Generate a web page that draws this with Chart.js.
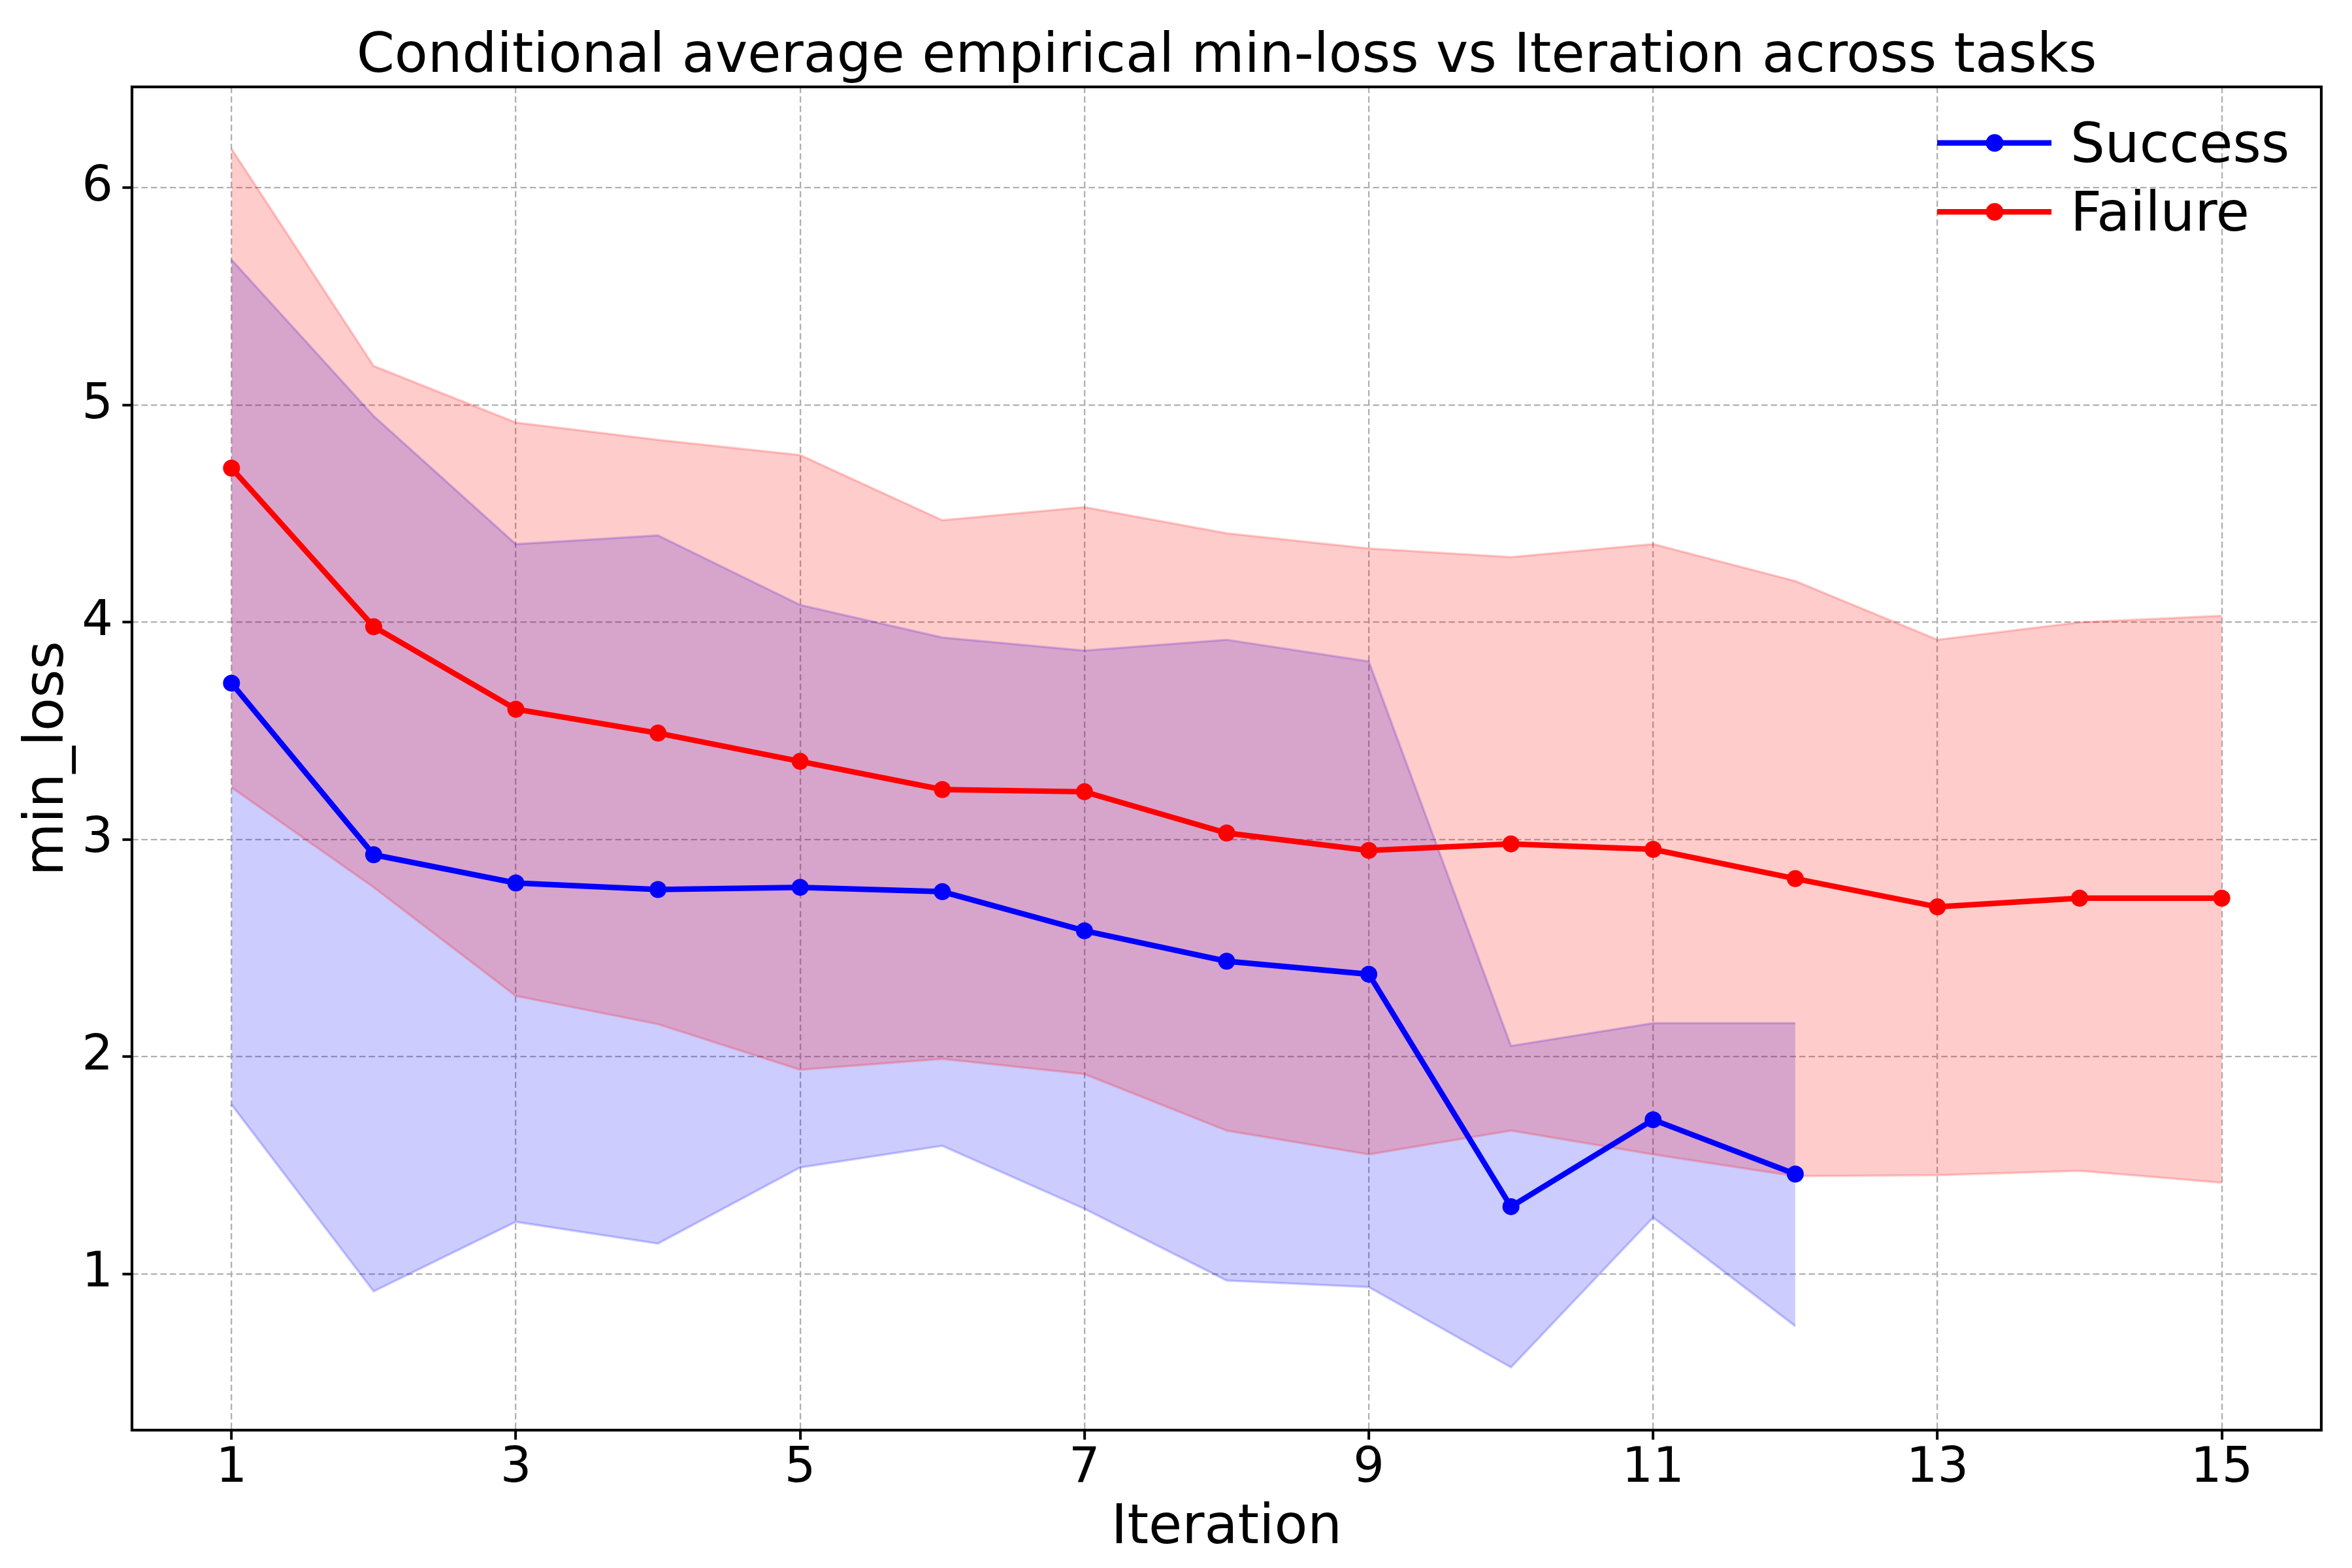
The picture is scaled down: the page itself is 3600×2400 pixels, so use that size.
<!DOCTYPE html>
<html lang="en">
<head>
  <meta charset="UTF-8">
  <title>Conditional average empirical min-loss vs Iteration across tasks</title>
  <style>
    html,
    body {
      margin: 0;
      padding: 0;
      background: #fff;
    }
    #chart {
      display: block;
      width: 3600px;
      height: 2400px;
    }
  </style>
</head>
<body>
  <canvas id="chart" width="3600" height="2400"></canvas>
  <script src="https://cdn.jsdelivr.net/npm/chart.js@4.4.1/dist/chart.umd.min.js"></script>
  <script>
    const chartTitle = 'Conditional average empirical min-loss vs Iteration across tasks'
    const iterations = [1, 2, 3, 4, 5, 6, 7, 8, 9, 10, 11, 12, 13, 14, 15]
    const xTicks = [1, 3, 5, 7, 9, 11, 13, 15]
    const yTicks = [1, 2, 3, 4, 5, 6]

    const successMean = [3.72, 2.93, 2.80, 2.77, 2.78, 2.76, 2.58, 2.44, 2.38, 1.31, 1.71, 1.46]
    const successUpper = [5.67, 4.95, 4.36, 4.40, 4.08, 3.93, 3.87, 3.92, 3.82, 2.05, 2.155, 2.155]
    const successLower = [1.78, 0.92, 1.24, 1.14, 1.49, 1.59, 1.30, 0.97, 0.94, 0.57, 1.26, 0.76]

    const failureMean = [4.71, 3.98, 3.60, 3.49, 3.36, 3.23, 3.22, 3.03, 2.95, 2.98, 2.955, 2.82, 2.69, 2.73, 2.73]
    const failureUpper = [6.18, 5.18, 4.92, 4.84, 4.77, 4.47, 4.53, 4.41, 4.34, 4.30, 4.36, 4.19, 3.92, 4.00, 4.03]
    const failureLower = [3.24, 2.78, 2.28, 2.15, 1.94, 1.99, 1.92, 1.66, 1.55, 1.66, 1.55, 1.45, 1.455, 1.475, 1.42]

    const BLUE = 'rgb(0, 0, 255)'
    const RED = 'rgb(255, 0, 0)'
    const BLUE_FILL = 'rgba(0, 0, 255, 0.2)'
    const RED_FILL = 'rgba(255, 0, 0, 0.2)'

    const toPoints = values => values.map((v, i) => ({ x: iterations[i], y: v }))

    function meanLine(label, values, color) {
      return {
        label,
        data: toPoints(values),
        borderColor: color,
        backgroundColor: color,
        borderWidth: 8.5,
        pointRadius: 13,
        pointHoverRadius: 13,
        pointBorderWidth: 0,
        fill: false,
        tension: 0
      }
    }

    function bandEdge(label, values, color, fill) {
      return {
        label,
        data: toPoints(values),
        borderColor: color,
        backgroundColor: color,
        borderWidth: 3.5,
        pointRadius: 0,
        fill,
        tension: 0
      }
    }

    // title, frame around the plot and the matplotlib-style legend
    const framePlugin = {
      id: 'frame',
      afterDraw(chart) {
        const { ctx, chartArea } = chart
        ctx.save()
        ctx.strokeStyle = '#000'
        ctx.lineWidth = 4.2
        ctx.strokeRect(chartArea.left, chartArea.top, chartArea.right - chartArea.left, chartArea.bottom - chartArea.top)

        ctx.fillStyle = '#000'
        ctx.font = '83.3px "DejaVu Sans"'
        ctx.textAlign = 'center'
        ctx.textBaseline = 'alphabetic'
        ctx.fillText(chartTitle, (chartArea.left + chartArea.right) / 2, 109.5)

        const items = [
          { text: 'Success', color: BLUE, y: 218.7, base: 247.5 },
          { text: 'Failure', color: RED, y: 324.3, base: 352.6 }
        ]
        items.forEach(item => {
          ctx.strokeStyle = item.color
          ctx.fillStyle = item.color
          ctx.lineWidth = 8.5
          ctx.beginPath()
          ctx.moveTo(2965, item.y)
          ctx.lineTo(3140, item.y)
          ctx.stroke()
          ctx.beginPath()
          ctx.arc(3053, item.y, 13.5, 0, Math.PI * 2)
          ctx.fill()
          ctx.fillStyle = '#000'
          ctx.font = '83.3px "DejaVu Sans"'
          ctx.textAlign = 'left'
          ctx.textBaseline = 'alphabetic'
          ctx.fillText(item.text, 3169, item.base)
        })
        ctx.restore()
      }
    }

    function drawChart() {
      Chart.defaults.font.family = '"DejaVu Sans", sans-serif'
      Chart.defaults.color = '#000'

      const gridStyle = {
        color: '#b0b0b0',
        lineWidth: 2.3,
        drawTicks: true,
        tickLength: 14.6,
        tickColor: '#000',
        tickWidth: 4,
        tickBorderDash: []
      }

      const context = document.querySelector('#chart').getContext('2d')
      new Chart(context, {
        type: 'line',
        data: {
          datasets: [
            meanLine('Failure', failureMean, RED),
            meanLine('Success', successMean, BLUE),
            bandEdge('failure upper', failureUpper, RED_FILL, '+1'),
            bandEdge('failure lower', failureLower, RED_FILL, false),
            bandEdge('success upper', successUpper, BLUE_FILL, '+1'),
            bandEdge('success lower', successLower, BLUE_FILL, false)
          ]
        },
        options: {
          responsive: false,
          devicePixelRatio: 1,
          animation: false,
          layout: { padding: { left: 0, right: 47, top: 133, bottom: 0 } },
          plugins: {
            legend: { display: false },
            tooltip: { enabled: false },
            title: { display: false }
          },
          scales: {
            x: {
              type: 'linear',
              min: 0.3,
              max: 15.7,
              afterBuildTicks: scale => { scale.ticks = xTicks.map(v => ({ value: v })) },
              afterFit: scale => { scale.height = 211 },
              ticks: {
                font: { size: 75, lineHeight: 1.2 },
                padding: 0,
                maxRotation: 0,
                autoSkip: false
              },
              grid: gridStyle,
              border: { display: false, dash: [9.5, 5] },
              title: {
                display: true,
                text: 'Iteration',
                font: { size: 83.3, lineHeight: 1 },
                padding: { top: 0, bottom: 17.5 }
              }
            },
            y: {
              min: 0.281,
              max: 6.465,
              afterBuildTicks: scale => { scale.ticks = yTicks.map(v => ({ value: v })) },
              afterFit: scale => { scale.width = 202 },
              ticks: {
                font: { size: 75, lineHeight: 1.2 },
                padding: 14.4,
                autoSkip: false
              },
              grid: gridStyle,
              border: { display: false, dash: [9.5, 5] },
              title: {
                display: true,
                text: 'min_loss',
                font: { size: 83.3, lineHeight: 1 },
                padding: { top: 32.5, bottom: 0 }
              }
            }
          }
        },
        plugins: [framePlugin]
      })
    }

    window.onload = () => {
      drawChart()
    }
  </script>
</body>
</html>
